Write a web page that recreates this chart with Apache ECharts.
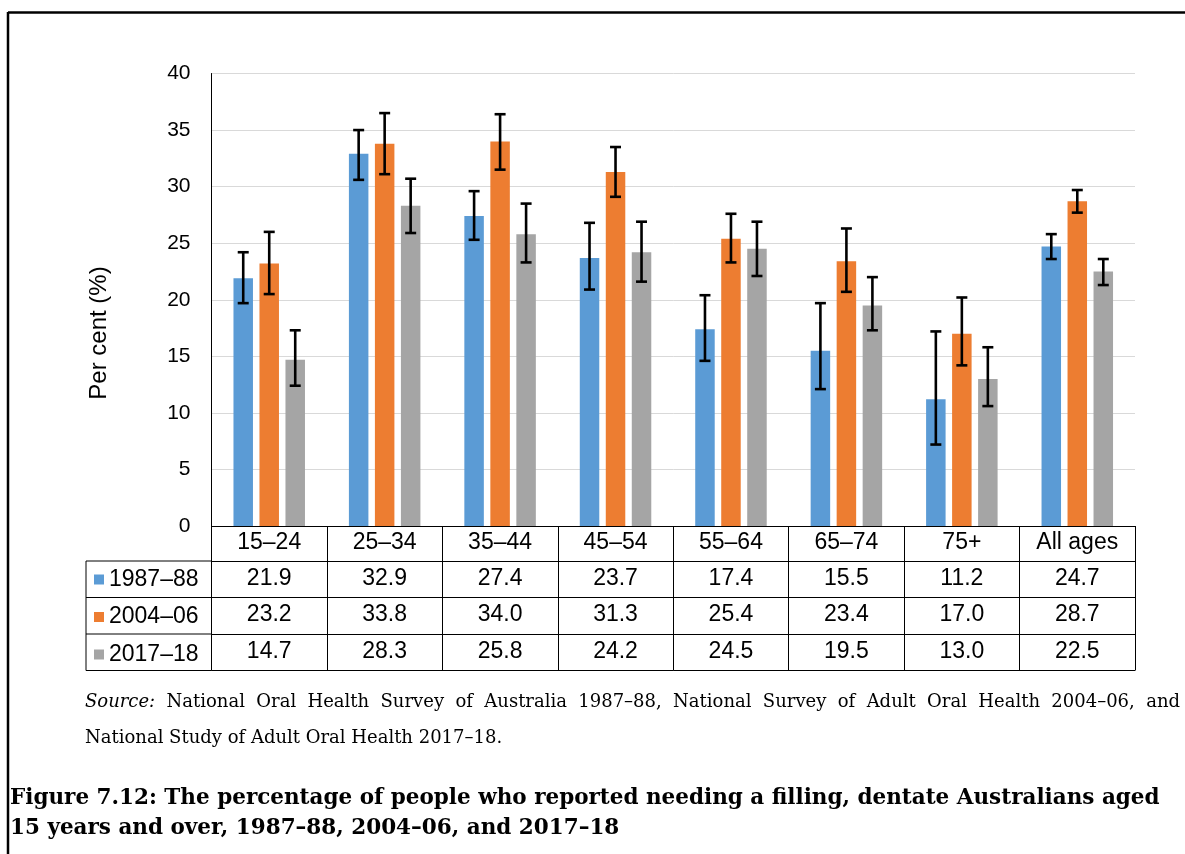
<!DOCTYPE html>
<html lang="en">

<head>
  <meta charset="UTF-8">
  <title>Figure 7.12</title>
  <script src="https://cdn.jsdelivr.net/npm/echarts@6/dist/echarts.min.js"></script>
  <style>
    html, body {
      margin: 0;
      padding: 0;
      background: #fff;
    }

    #main {
      width: 1185px;
      height: 854px;
    }
  </style>
</head>

<body>
  <div id="main"></div>
  <script>
    // data
    const categories = ['15–24', '25–34', '35–44', '45–54', '55–64', '65–74', '75+', 'All ages'];
    const periods = ['1987–88', '2004–06', '2017–18'];

    const pct1987 = [21.9, 32.9, 27.4, 23.7, 17.4, 15.5, 11.2, 24.7];
    const pct2004 = [23.2, 33.8, 34.0, 31.3, 25.4, 23.4, 17.0, 28.7];
    const pct2017 = [14.7, 28.3, 25.8, 24.2, 24.5, 19.5, 13.0, 22.5];

    // 95% confidence interval ends (estimated from the error bars)
    const low1987 = [19.7, 30.6, 25.3, 20.9, 14.6, 12.1, 7.2, 23.6];
    const high1987 = [24.2, 35.0, 29.6, 26.8, 20.4, 19.7, 17.2, 25.8];
    const low2004 = [20.5, 31.1, 31.5, 29.1, 23.3, 20.7, 14.2, 27.7];
    const high2004 = [26.0, 36.5, 36.4, 33.5, 27.6, 26.3, 20.2, 29.7];
    const low2017 = [12.4, 25.9, 23.3, 21.6, 22.1, 17.3, 10.6, 21.3];
    const high2017 = [17.3, 30.7, 28.5, 26.9, 26.9, 22.0, 15.8, 23.6];

    const yMin = 0;
    const yMax = 40;
    const yStep = 5;

    const yName = 'Per cent (%)';
    const sourceLine1 = 'Source: National Oral Health Survey of Australia 1987–88, National Survey of Adult Oral Health 2004–06, and';
    const sourceLine2 = 'National Study of Adult Oral Health 2017–18.';
    const titleLine1 = 'Figure 7.12: The percentage of people who reported needing a filling, dentate Australians aged';
    const titleLine2 = '15 years and over, 1987–88, 2004–06, and 2017–18';

    const colors = ['#5B9BD5', '#ED7D31', '#A5A5A5'];
    const seriesValues = [pct1987, pct2004, pct2017];
    const lows = [low1987, low2004, low2017];
    const highs = [high1987, high2004, high2017];

    const BAR_W = 19.5;
    const BAR_STEP = 26;
    const ROW_H = 36.5;
    const HEAD_H = 35;
    const SANS = 'Liberation Sans, Arial, sans-serif';
    const TXT = 23;

    const chart = echarts.init(document.getElementById('main'));

    // measure helper for the justified source line
    const ctx = document.createElement('canvas').getContext('2d');
    const measure = (txt, font) => {
      ctx.font = font;
      return ctx.measureText(txt).width;
    };

    function justifiedLine(text, x0, x1, y, fontSize) {
      const words = text.split(' ');
      const fonts = words.map((w, i) => i === 0 ? 'italic ' + fontSize + 'px DejaVu Serif' : fontSize + 'px DejaVu Serif');
      const widths = words.map((w, i) => measure(w, fonts[i]));
      const total = widths.reduce((a, b) => a + b, 0);
      const gap = (x1 - x0 - total) / (words.length - 1);
      let x = x0;
      return words.map((w, i) => {
        const el = {
          type: 'text',
          left: x,
          top: y,
          style: {
            text: w,
            font: fonts[i],
            fill: '#000',
          },
        };
        x += widths[i] + gap;
        return el;
      });
    }

    function errorBarSeries(k) {
      const offset = (k - 1) * BAR_STEP;
      return {
        type: 'custom',
        name: periods[k] + ' CI',
        xAxisIndex: 0,
        yAxisIndex: 0,
        z: 5,
        silent: true,
        data: categories.map((c, i) => [i, lows[k][i], highs[k][i]]),
        renderItem: (params, api) => {
          const top = api.coord([api.value(0), api.value(2)]);
          const bot = api.coord([api.value(0), api.value(1)]);
          const x = top[0] + offset;
          const cap = 5.5;
          const style = { stroke: '#000', lineWidth: 2.6 };
          return {
            type: 'group',
            children: [
              { type: 'line', shape: { x1: x, y1: top[1], x2: x, y2: bot[1] }, style },
              { type: 'line', shape: { x1: x - cap, y1: top[1], x2: x + cap, y2: top[1] }, style },
              { type: 'line', shape: { x1: x - cap, y1: bot[1], x2: x + cap, y2: bot[1] }, style },
            ],
          };
        },
      };
    }

    // one extra x axis per table row, sharing the category scale
    function rowAxis(k) {
      const vals = seriesValues[k];
      return {
        type: 'category',
        data: categories,
        gridIndex: 0,
        position: 'bottom',
        offset: HEAD_H + ROW_H * k,
        axisLine: { show: true, lineStyle: { color: '#000', width: 1 } },
        axisTick: { show: false },
        axisLabel: {
          interval: 0,
          margin: 6,
          fontFamily: SANS,
          fontSize: TXT,
          color: '#000',
          formatter: (v, i) => vals[i].toFixed(1),
        },
      };
    }

    const tableTop = 526;
    const tableBottom = tableTop + HEAD_H + ROW_H * 3;
    const tableLeft = 86;
    const gridLeft = 211.5;

    const graphic = [
      // outer frame (runs off the right and bottom of the picture)
      { type: 'line', shape: { x1: 8, y1: 12.5, x2: 1185, y2: 12.5 }, style: { stroke: '#000', lineWidth: 2.5 } },
      { type: 'line', shape: { x1: 8, y1: 12, x2: 8, y2: 854 }, style: { stroke: '#000', lineWidth: 2.5 } },
      // y axis title
      {
        type: 'text',
        x: 99,
        y: 333,
        rotation: Math.PI / 2,
        style: { text: yName, font: '24px Liberation Sans', fill: '#000', align: 'center', verticalAlign: 'middle' },
      },
      // left column of the data table
      {
        type: 'rect',
        shape: { x: tableLeft, y: tableTop + HEAD_H, width: gridLeft - tableLeft, height: ROW_H * 3 },
        style: { fill: 'none', stroke: '#000', lineWidth: 1 },
      },
      { type: 'line', shape: { x1: tableLeft, y1: tableTop + HEAD_H + ROW_H, x2: gridLeft, y2: tableTop + HEAD_H + ROW_H }, style: { stroke: '#000', lineWidth: 1 } },
      { type: 'line', shape: { x1: tableLeft, y1: tableTop + HEAD_H + ROW_H * 2, x2: gridLeft, y2: tableTop + HEAD_H + ROW_H * 2 }, style: { stroke: '#000', lineWidth: 1 } },
      { type: 'line', shape: { x1: gridLeft, y1: tableBottom, x2: 1135, y2: tableBottom }, style: { stroke: '#000', lineWidth: 1 } },
      ...justifiedLine(sourceLine1, 85, 1180, 693, 18),
      {
        type: 'text',
        left: 85,
        top: 729,
        style: { text: sourceLine2, font: '18px DejaVu Serif', fill: '#000' },
      },
      {
        type: 'text',
        left: 10,
        top: 787,
        style: { text: titleLine1, font: 'bold 21.5px DejaVu Serif', fill: '#000' },
      },
      {
        type: 'text',
        left: 10,
        top: 817,
        style: { text: titleLine2, font: 'bold 21.5px DejaVu Serif', fill: '#000' },
      },
    ];

    const option = {
      backgroundColor: '#fff',
      animation: false,
      color: colors,
      grid: {
        left: gridLeft,
        right: 1185 - 1135,
        top: 73.5,
        bottom: 854 - tableTop,
        containLabel: false,
      },
      legend: {
        data: periods,
        orient: 'vertical',
        left: 94,
        top: tableTop + HEAD_H + 7,
        padding: 0,
        itemWidth: 10,
        itemHeight: 10,
        itemGap: ROW_H - 22,
        icon: 'rect',
        selectedMode: false,
        textStyle: { fontFamily: SANS, fontSize: TXT, color: '#000', lineHeight: 22 },
      },
      xAxis: [
        {
          type: 'category',
          data: categories,
          position: 'bottom',
          axisLine: { show: true, lineStyle: { color: '#000', width: 1 } },
          axisTick: { show: true, length: HEAD_H + ROW_H * 3, interval: 0, lineStyle: { color: '#000', width: 1 } },
          axisLabel: { interval: 0, margin: 5, fontFamily: SANS, fontSize: TXT, color: '#000' },
        },
        rowAxis(0),
        rowAxis(1),
        rowAxis(2),
      ],
      yAxis: {
        type: 'value',
        min: yMin,
        max: yMax,
        interval: yStep,
        axisLine: { show: true, lineStyle: { color: '#000', width: 1 } },
        axisTick: { show: false },
        axisLabel: { margin: 21, fontFamily: SANS, fontSize: 21, color: '#000' },
        splitLine: { lineStyle: { color: '#d9d9d9', width: 1 } },
      },
      series: [
        ...periods.map((p, k) => ({
          type: 'bar',
          name: p,
          data: seriesValues[k],
          barWidth: BAR_W,
          barGap: ((BAR_STEP - BAR_W) / BAR_W * 100) + '%',
          itemStyle: { color: colors[k] },
        })),
        errorBarSeries(0),
        errorBarSeries(1),
        errorBarSeries(2),
      ],
      graphic,
    };

    chart.setOption(option);
  </script>
</body>

</html>
